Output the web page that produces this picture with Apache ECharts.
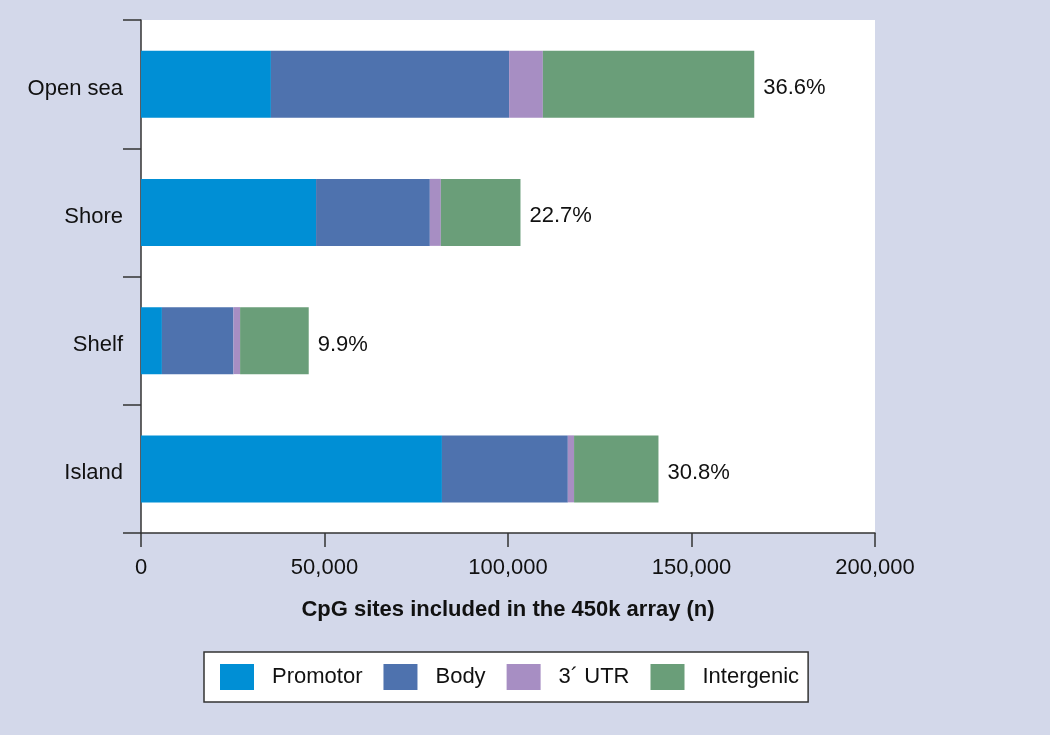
<!DOCTYPE html>
<html>
<head>
<meta charset="utf-8">
<script src="https://cdn.jsdelivr.net/npm/echarts@6/dist/echarts.min.js"></script>
<style>
  html, body { margin: 0; padding: 0; background: #d3d8ea; }
  #chart { width: 1050px; height: 735px; }
</style>
</head>
<body>
<div id="chart"></div>
<script>
// categories bottom to top
const regions = ['Island', 'Shelf', 'Shore', 'Open sea'];
const promotor = [82000, 5700, 47700, 35400];
const body = [34300, 19500, 31000, 64900];
const utr3 = [1700, 1800, 3000, 9200];
const intergenic = [23000, 18700, 21700, 57600];
const shares = ['30.8%', '9.9%', '22.7%', '36.6%'];
const xTicks = [0, 50000, 100000, 150000, 200000];

const font = 'Liberation Sans, Arial, Helvetica, sans-serif';
const colors = ['#008fd5', '#4e72ae', '#a78ec3', '#6a9e79'];

const chart = echarts.init(document.getElementById('chart'));

function bar(name, data, i) {
    return {
        name: name,
        type: 'bar',
        stack: 'all',
        barWidth: 67,
        data: data,
        itemStyle: { color: colors[i] },
        emphasis: { disabled: true }
    };
}

const series = [
    bar('Promotor', promotor, 0),
    bar('Body', body, 1),
    bar('3\u00b4 UTR', utr3, 2),
    bar('Intergenic', intergenic, 3)
];
series[3].label = {
    show: true,
    position: 'right',
    distance: 9,
    offset: [0, 4],
    fontFamily: font,
    fontSize: 22,
    color: '#111',
    formatter: p => shares[p.dataIndex]
};

chart.setOption({
    animation: false,
    backgroundColor: '#d3d8ea',
    textStyle: { fontFamily: font },
    grid: {
        left: 141, right: 175, top: 20, bottom: 202,
        show: true, backgroundColor: '#fff', borderWidth: 0
    },
    xAxis: {
        type: 'value',
        min: 0, max: 200000, interval: 50000,
        name: 'CpG sites included in the 450k array (n)',
        nameLocation: 'middle',
        nameGap: 66,
        nameTextStyle: { fontSize: 22, fontWeight: 'bold', color: '#111', fontFamily: font },
        axisLine: { show: true, lineStyle: { color: '#333', width: 1.5 } },
        axisTick: { show: true, length: 14, lineStyle: { color: '#333', width: 1.5 } },
        axisLabel: {
            fontSize: 22, color: '#111', margin: 24, fontFamily: font,
            formatter: v => xTicks.includes(v) ? v.toLocaleString('en-US') : ''
        },
        splitLine: { show: false }
    },
    yAxis: {
        type: 'category',
        data: regions,
        axisLine: { show: true, lineStyle: { color: '#333', width: 1.5 } },
        axisTick: { show: true, length: 18, lineStyle: { color: '#333', width: 1.5 } },
        axisLabel: {
            margin: 18,
            formatter: v => '{a|' + v + '}',
            rich: { a: { fontSize: 22, color: '#111', fontFamily: font, padding: [9, 0, 0, 0] } }
        }
    },
    legend: {
        left: 204, top: 652,
        orient: 'horizontal',
        backgroundColor: '#fff',
        borderColor: '#333',
        borderWidth: 1.5,
        borderRadius: 0,
        padding: [12, 9, 12, 16],
        itemWidth: 34, itemHeight: 26,
        itemGap: 21,
        icon: 'rect',
        selectedMode: false,
        textStyle: { fontSize: 22, color: '#111', fontFamily: font, padding: [0, 0, 0, 13] },
        data: ['Promotor', 'Body', '3\u00b4 UTR', 'Intergenic']
    },
    series: series
});
</script>
</body>
</html>
